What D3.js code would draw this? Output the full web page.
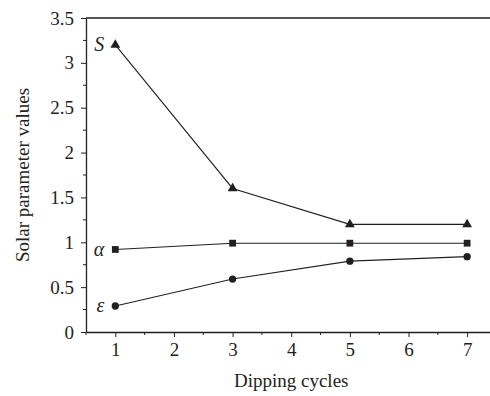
<!DOCTYPE html>
<html>
<head>
<meta charset="utf-8">
<script src="https://cdn.jsdelivr.net/npm/d3@7"></script>
<style>
  body { margin: 0; background: #fff; }
  text { font-family: "Liberation Serif", "DejaVu Serif", serif; fill: #231f20; }
</style>
</head>
<body>
<div id="chart"></div>
<script>
let cycles = [1, 3, 5, 7]
let sValues = [3.2, 1.6, 1.2, 1.2]
let alphaValues = [0.92, 0.99, 0.99, 0.99]
let epsValues = [0.29, 0.59, 0.79, 0.84]
let seriesNames = ["S", "α", "ε"]
let xTicks = [1, 2, 3, 4, 5, 6, 7]
let yTicks = [0, 0.5, 1, 1.5, 2, 2.5, 3, 3.5]

let width = 490, height = 396
let margin = {top: 18, right: 0, bottom: 64, left: 86}

let svg = d3.select('#chart').append('svg')
    .attr('width', width)
    .attr('height', height)

let x = d3.scaleLinear().domain([0.5, 7.39]).range([margin.left, width - margin.right])
let y = d3.scaleLinear().domain([0, 3.5]).range([height - margin.bottom, margin.top])

// minor ticks
let xMinor = d3.range(0.5, 7.4, 0.5).filter(v => !Number.isInteger(v))
let yMinor = d3.range(0.25, 3.5, 0.5)

let ink = '#231f20'

let xAxis = svg.append('g')
    .attr('transform', 'translate(0,' + y(0) + ')')
    .call(d3.axisBottom(x).tickValues(xTicks).tickFormat(d3.format('d')).tickSize(5).tickSizeOuter(0))
xAxis.select('.domain').attr('stroke', ink).attr('stroke-width', 1.3)
xAxis.selectAll('.tick line').attr('stroke', ink)
xAxis.selectAll('text').attr('font-size', 19).attr('dy', '0.9em').attr('y', 7)

svg.append('g')
    .attr('transform', 'translate(0,' + y(0) + ')')
    .selectAll('line').data(xMinor).enter().append('line')
    .attr('x1', d => x(d)).attr('x2', d => x(d))
    .attr('y1', 0).attr('y2', 3)
    .attr('stroke', ink)

let yAxis = svg.append('g')
    .attr('transform', 'translate(' + x(0.5) + ',0)')
    .call(d3.axisLeft(y).tickValues(yTicks).tickFormat(d => d).tickSize(5).tickSizeOuter(0))
yAxis.select('.domain').attr('stroke', ink).attr('stroke-width', 1.3)
yAxis.selectAll('.tick line').attr('stroke', ink)
yAxis.selectAll('text').attr('font-size', 19).attr('x', -12)

svg.append('g')
    .attr('transform', 'translate(' + x(0.5) + ',0)')
    .selectAll('line').data(yMinor).enter().append('line')
    .attr('x1', -3).attr('x2', 0)
    .attr('y1', d => y(d)).attr('y2', d => y(d))
    .attr('stroke', ink)

// top frame line
svg.append('line')
    .attr('x1', x(0.5)).attr('x2', width)
    .attr('y1', y(3.5)).attr('y2', y(3.5))
    .attr('stroke', ink).attr('stroke-width', 1.3)

let series = [
    {name: seriesNames[0], values: sValues, symbol: d3.symbolTriangle, size: 42},
    {name: seriesNames[1], values: alphaValues, symbol: d3.symbolSquare, size: 46},
    {name: seriesNames[2], values: epsValues, symbol: d3.symbolCircle, size: 42}
]

let line = d3.line()
    .x((d, i) => x(cycles[i]))
    .y(d => y(d))

series.forEach(s => {
    svg.append('path')
        .attr('d', line(s.values))
        .attr('fill', 'none')
        .attr('stroke', ink)
        .attr('stroke-width', 1.1)

    svg.selectAll(null)
        .data(s.values)
        .enter()
        .append('path')
        .attr('d', d3.symbol().type(s.symbol).size(s.size))
        .attr('transform', (d, i) => 'translate(' + x(cycles[i]) + ',' + y(d) + ')')
        .attr('fill', ink)

    svg.append('text')
        .attr('x', x(cycles[0]) - 11)
        .attr('y', y(s.values[0]))
        .attr('dy', '0.32em')
        .attr('text-anchor', 'end')
        .attr('font-size', 20)
        .attr('font-style', 'italic')
        .text(s.name)
})

svg.append('text')
    .attr('x', x(4))
    .attr('y', 387)
    .attr('text-anchor', 'middle')
    .attr('font-size', 19)
    .text('Dipping cycles')

svg.append('text')
    .attr('transform', 'translate(29,' + y(1.75) + ') rotate(-90)')
    .attr('text-anchor', 'middle')
    .attr('font-size', 19)
    .text('Solar parameter values')
</script>
</body>
</html>
